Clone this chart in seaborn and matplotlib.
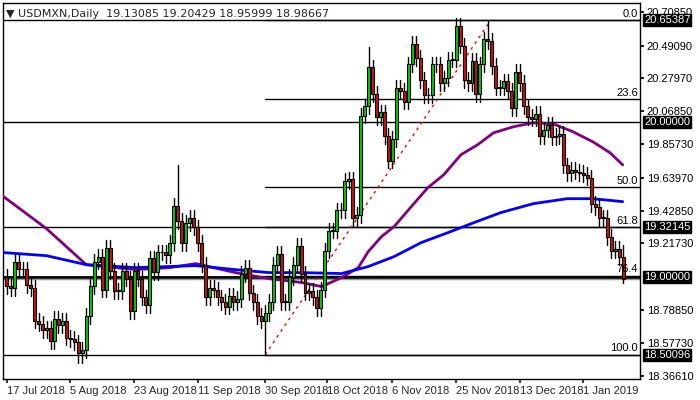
import matplotlib
matplotlib.use("Agg")
import matplotlib.pyplot as plt
import numpy as np
import pandas as pd
import seaborn as sns

sns.set_theme(style="white")
plt.rcParams['font.family'] = ['Liberation Sans', 'DejaVu Sans']

# ---- data (daily closes, USDMXN) ----
closes = [
    18.94, 18.93, 19.10, 19.05, 19.05, 18.95, 18.93, 18.72, 18.70, 18.66,
    18.67, 18.59, 18.73, 18.69, 18.72, 18.61, 18.60, 18.58, 18.51, 18.53,
    18.75, 18.94, 19.10, 19.13, 18.92, 19.19, 19.04, 18.91, 18.91, 19.04,
    18.99, 18.78, 19.04, 18.99, 18.87, 18.82, 19.12, 19.03, 19.16, 19.16,
    19.14, 19.22, 19.46, 19.36, 19.22, 19.35, 19.38, 19.32, 19.22, 19.08,
    18.87, 18.93, 18.92, 18.87, 18.84, 18.81, 18.88, 18.84, 18.86, 19.02,
    19.06, 18.90, 18.84, 18.75, 18.72, 18.77, 18.84, 19.08, 19.15, 18.84,
    18.84, 19.00, 19.08, 19.20, 19.02, 18.90, 18.91, 18.87, 18.80, 18.92,
    19.17, 19.30, 19.30, 19.43, 19.43, 19.62, 19.63, 19.38, 19.40, 20.04,
    20.10, 20.35, 20.18, 20.03, 20.06, 19.91, 19.75, 19.89, 20.22, 20.20,
    20.13, 20.37, 20.50, 20.41, 20.27, 20.17, 20.17, 20.37, 20.37, 20.25,
    20.28, 20.40, 20.40, 20.62, 20.49, 20.27, 20.25, 20.39, 20.18, 20.37,
    20.53, 20.52, 20.36, 20.22, 20.22, 20.26, 20.20, 20.09, 20.32, 20.25,
    20.10, 20.03, 20.02, 20.05, 19.91, 19.95, 19.98, 19.90, 19.91, 19.92,
    19.72, 19.67, 19.69, 19.68, 19.67, 19.66, 19.64, 19.47, 19.45, 19.38,
    19.38, 19.26, 19.17, 19.18, 19.13085, 18.98667,
]
first_open = 19.00
wick = 0.05
high_spikes = {43: 19.72, 121: 20.65, 91: 20.48, 155: 19.20429}
low_spikes = {18: 18.45, 19: 18.45, 65: 18.50, 155: 18.95999}

# moving averages, sampled (candle index, price)
ma_purple_idx = [-0.8, 10, 20, 32.5, 41, 47.5, 57.5, 66, 74.2, 79.2, 84.2, 88.4, 90.9, 94.2,
                 97.4, 101.7, 105.9, 109.9, 114.2, 118.4, 122.4, 127.4, 132.4, 137.4,
                 142.4, 147.4, 151.7, 154.9]
ma_purple = [19.518, 19.312, 19.080, 19.048, 19.061, 19.087, 19.029, 18.990, 18.965, 18.939,
             18.997, 19.061, 19.164, 19.260, 19.325, 19.453, 19.576, 19.659, 19.788, 19.852,
             19.929, 19.968, 19.994, 19.987, 19.936, 19.871, 19.801, 19.723]
ma_blue_idx = [-0.8, 10, 20, 32.5, 47.5, 57.5, 66, 74.2, 84.2, 90.9, 97.4, 104.2, 110.9,
               117.4, 124.2, 132.4, 140.9, 147.4, 154.9]
ma_blue = [19.158, 19.138, 19.080, 19.061, 19.074, 19.048, 19.029, 19.029, 19.023, 19.068,
           19.132, 19.222, 19.286, 19.350, 19.415, 19.473, 19.505, 19.505, 19.486]

fib_levels = ['0.0', '23.6', '50.0', '61.8', '76.4', '100.0']
fib_ratios = [0.0, 0.236, 0.5, 0.618, 0.764, 1.0]
fib_high, fib_low = 20.65387, 18.50096
fib_start = 65
trend_end = 121.7

hlines = [20.65387, 20.00000, 19.32145, 19.00000, 18.50096]
bid = 18.98667
yticks = [20.70850, 20.49090, 20.27970, 20.06850, 19.85730, 19.63970, 19.42850,
          19.21730, 18.78850, 18.57730, 18.36610]
date_labels = ['17 Jul 2018', '5 Aug 2018', '23 Aug 2018', '11 Sep 2018', '30 Sep 2018',
               '18 Oct 2018', '6 Nov 2018', '25 Nov 2018', '13 Dec 2018', '1 Jan 2019']
date_idx = [0, 16, 32, 48, 65, 80.5, 97, 113, 129, 145]

# ---- build OHLC ----
n = len(closes)
idx = np.arange(n)
opens = [first_open] + closes[:-1]
highs = [max(o, c) + wick for o, c in zip(opens, closes)]
lows = [min(o, c) - wick for o, c in zip(opens, closes)]
for k, v in high_spikes.items():
    highs[k] = v
for k, v in low_spikes.items():
    lows[k] = v
df = pd.DataFrame({'i': idx, 'open': opens, 'high': highs, 'low': lows, 'close': closes})

fig = plt.figure(figsize=(7, 4), dpi=100)
ax = fig.add_axes([0.004, 0.0525, 0.91, 0.94])
ax.set_ylim(18.344, 20.765)
ax.set_xlim(-1, 159.2)

# horizontal levels
for h in hlines:
    ax.axhline(h, color='black', lw=1.0, zorder=1)
ax.axhline(19.0, color='black', lw=2.0, zorder=1)
ax.axhline(bid, color='#8a9a9a', lw=1.0, zorder=1)

# fibonacci
for lab, r in zip(fib_levels, fib_ratios):
    lv = fib_high - r * (fib_high - fib_low)
    ax.plot([fib_start, 159.2], [lv, lv], color='black', lw=1.0, zorder=1)
    ax.text(158.8, lv + 0.008, lab, ha='right', va='bottom', fontsize=8, color='black', zorder=10)
ax.plot([fib_start, trend_end], [fib_low, fib_high], color='red', lw=1, ls=(0, (2, 3)), zorder=2)

# moving averages
sns.lineplot(x=ma_purple_idx, y=ma_purple, ax=ax, color='#800080', lw=2, zorder=3)
sns.lineplot(x=ma_blue_idx, y=ma_blue, ax=ax, color='#0000ff', lw=2, zorder=3)

# candles
for r in df.itertuples():
    ax.plot([r.i, r.i], [r.low, r.high], color='black', lw=1, zorder=4)
    up = r.close >= r.open
    col = '#00d000' if up else '#d01010'
    bot = min(r.open, r.close)
    hgt = max(abs(r.close - r.open), 0.004)
    ax.bar(r.i, hgt, bottom=bot, width=0.75, color=col, edgecolor='black', lw=0.8, zorder=5)

# axes styling
for s in ['top', 'right', 'left', 'bottom']:
    ax.spines[s].set_color('black')
    ax.spines[s].set_linewidth(1)
ax.yaxis.tick_right()
ax.set_yticks(yticks)
ax.set_yticklabels([f'{v:.5f}' for v in yticks], fontsize=8)
ax.tick_params(axis='y', length=3, pad=2, colors='black', right=True)
ax.set_xticks(date_idx)
ax.set_xticklabels(date_labels, fontsize=8, ha='left')
ax.tick_params(axis='x', length=3, pad=2, bottom=True)

# price boxes
for h in hlines:
    ax.annotate(f'{h:.5f}', xy=(1.0, h), xycoords=('axes fraction', 'data'),
                xytext=(3, 0), textcoords='offset points', va='center', ha='left',
                fontsize=8, color='white',
                bbox=dict(boxstyle='square,pad=0.1', fc='black', ec='black'))

ax.text(0.005, 0.985, '\u25bc USDMXN,Daily  19.13085 19.20429 18.95999 18.98667',
        transform=ax.transAxes, fontsize=8, va='top', ha='left',
        family=['DejaVu Sans'])

fig.savefig('out.png', dpi=100)
